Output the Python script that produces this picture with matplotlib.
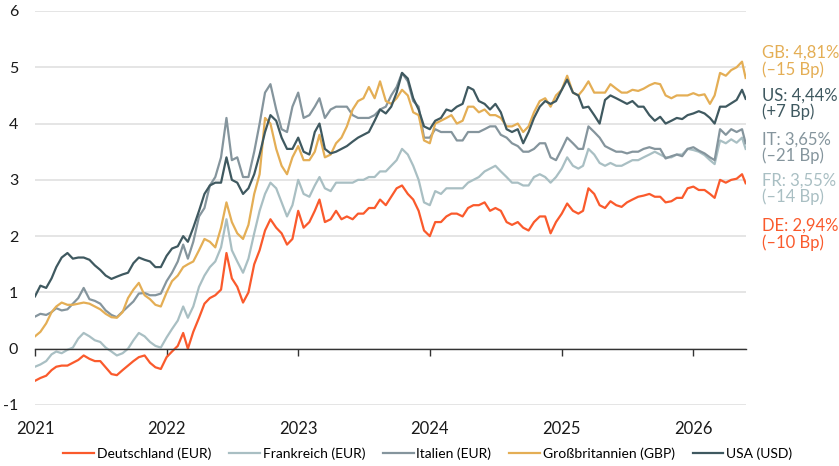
import matplotlib
matplotlib.use("Agg")
import matplotlib.pyplot as plt
import pandas as pd

plt.rcParams['font.family'] = ['Lato', 'DejaVu Sans']
plt.rcParams['axes.unicode_minus'] = False

# ---- data: 10y government bond yields in %, read at the 1st and 16th of each month ----
month_starts = pd.date_range('2021-01-01', periods=65, freq='MS')
last_date = pd.Timestamp('2026-05-26')

# values on the 1st of each month (Jan 2021 .. May 2026)
de_1st = [-0.57, -0.48, -0.32, -0.30, -0.20, -0.18, -0.22, -0.45, -0.38, -0.22, -0.12, -0.33,
          -0.15, 0.05, 0.00, 0.55, 0.90, 1.05, 1.25, 0.82, 1.50, 2.10, 2.15, 1.85,
          2.45, 2.25, 2.65, 2.30, 2.30, 2.30, 2.40, 2.50, 2.55, 2.85, 2.75, 2.45,
          2.00, 2.25, 2.40, 2.35, 2.55, 2.60, 2.50, 2.25, 2.25, 2.10, 2.35, 2.05,
          2.40, 2.45, 2.45, 2.75, 2.50, 2.55, 2.60, 2.70, 2.75, 2.70, 2.62, 2.68,
          2.88, 2.82, 2.68, 2.95, 3.02]
fr_1st = [-0.32, -0.22, -0.05, -0.02, 0.18, 0.22, 0.12, -0.05, -0.08, 0.15, 0.22, 0.05,
          0.20, 0.50, 0.55, 1.10, 1.45, 1.80, 1.75, 1.35, 2.05, 2.75, 2.85, 2.35,
          3.00, 2.70, 3.05, 2.80, 2.95, 2.95, 3.00, 3.05, 3.15, 3.35, 3.45, 3.00,
          2.55, 2.75, 2.85, 2.85, 3.00, 3.15, 3.25, 3.05, 2.95, 2.90, 3.10, 2.95,
          3.20, 3.25, 3.25, 3.45, 3.25, 3.25, 3.30, 3.35, 3.45, 3.45, 3.40, 3.45,
          3.53, 3.44, 3.28, 3.65, 3.66]
it_1st = [0.57, 0.60, 0.72, 0.70, 0.90, 0.88, 0.80, 0.60, 0.66, 0.84, 0.99, 0.95,
          1.20, 1.55, 1.60, 2.35, 2.90, 3.40, 3.35, 3.05, 3.50, 4.55, 4.25, 3.85,
          4.55, 4.15, 4.45, 4.25, 4.30, 4.15, 4.10, 4.15, 4.30, 4.65, 4.75, 4.30,
          3.75, 3.85, 3.85, 3.70, 3.85, 3.90, 3.95, 3.75, 3.60, 3.50, 3.65, 3.40,
          3.55, 3.65, 3.55, 3.85, 3.60, 3.50, 3.47, 3.50, 3.58, 3.55, 3.42, 3.42,
          3.58, 3.47, 3.35, 3.80, 3.85]
gb_1st = [0.22, 0.45, 0.75, 0.78, 0.80, 0.80, 0.70, 0.56, 0.65, 1.05, 0.95, 0.78,
          1.00, 1.30, 1.50, 1.75, 1.90, 2.15, 2.25, 1.95, 2.75, 4.10, 3.55, 3.10,
          3.60, 3.35, 3.80, 3.45, 3.75, 4.25, 4.45, 4.45, 4.40, 4.45, 4.50, 4.15,
          3.65, 4.05, 4.15, 4.05, 4.30, 4.25, 4.15, 3.95, 4.00, 3.95, 4.40, 4.30,
          4.60, 4.55, 4.60, 4.55, 4.55, 4.62, 4.55, 4.58, 4.68, 4.70, 4.45, 4.50,
          4.54, 4.52, 4.50, 4.85, 5.00]
us_1st = [0.93, 1.08, 1.45, 1.70, 1.62, 1.58, 1.40, 1.24, 1.32, 1.52, 1.58, 1.45,
          1.65, 1.82, 1.90, 2.45, 2.90, 2.95, 3.00, 2.75, 3.10, 3.85, 4.05, 3.55,
          3.75, 3.45, 4.00, 3.47, 3.55, 3.68, 3.80, 4.05, 4.18, 4.55, 4.80, 4.25,
          3.90, 4.10, 4.22, 4.35, 4.60, 4.35, 4.35, 3.90, 3.90, 3.85, 4.30, 4.35,
          4.60, 4.55, 4.28, 4.15, 4.42, 4.45, 4.35, 4.30, 4.15, 4.12, 4.05, 4.08,
          4.18, 4.18, 4.00, 4.30, 4.42]

# values on the 16th of each month (Jan 2021 .. May 2026)
de_mid = [-0.52, -0.38, -0.30, -0.25, -0.12, -0.22, -0.33, -0.47, -0.30, -0.15, -0.25, -0.36,
          -0.05, 0.28, 0.30, 0.80, 0.95, 1.70, 1.10, 1.00, 1.75, 2.30, 2.05, 1.95,
          2.15, 2.45, 2.25, 2.45, 2.35, 2.40, 2.50, 2.65, 2.70, 2.90, 2.65, 2.10,
          2.25, 2.35, 2.40, 2.50, 2.55, 2.45, 2.45, 2.20, 2.15, 2.25, 2.35, 2.25,
          2.58, 2.40, 2.85, 2.55, 2.62, 2.52, 2.65, 2.72, 2.70, 2.60, 2.68, 2.85,
          2.82, 2.75, 3.00, 3.00, 3.10]
fr_mid = [-0.28, -0.10, -0.08, 0.02, 0.28, 0.15, 0.02, -0.12, 0.00, 0.28, 0.12, 0.02,
          0.35, 0.75, 0.75, 1.30, 1.55, 2.30, 1.55, 1.60, 2.45, 2.95, 2.60, 2.55,
          2.75, 2.90, 2.85, 2.95, 2.95, 3.00, 3.05, 3.15, 3.25, 3.55, 3.25, 2.60,
          2.80, 2.85, 2.85, 2.95, 3.05, 3.20, 3.15, 2.95, 2.90, 3.05, 3.05, 3.05,
          3.40, 3.20, 3.55, 3.30, 3.30, 3.25, 3.35, 3.40, 3.50, 3.40, 3.45, 3.55,
          3.50, 3.35, 3.70, 3.72, 3.75]
it_mid = [0.62, 0.65, 0.68, 0.80, 1.08, 0.85, 0.68, 0.56, 0.75, 0.98, 0.95, 0.98,
          1.35, 1.85, 1.90, 2.50, 3.05, 4.10, 3.40, 3.05, 4.00, 4.70, 3.90, 4.30,
          4.10, 4.30, 4.10, 4.30, 4.30, 4.10, 4.10, 4.25, 4.50, 4.90, 4.40, 3.75,
          3.90, 3.85, 3.70, 3.85, 3.85, 3.95, 3.80, 3.65, 3.50, 3.55, 3.65, 3.35,
          3.75, 3.55, 3.95, 3.75, 3.55, 3.50, 3.50, 3.55, 3.55, 3.38, 3.45, 3.55,
          3.52, 3.40, 3.90, 3.90, 3.90]
gb_mid = [0.30, 0.65, 0.82, 0.78, 0.82, 0.75, 0.62, 0.55, 0.90, 1.17, 0.88, 0.75,
          1.20, 1.45, 1.55, 1.95, 1.80, 2.60, 2.05, 2.20, 3.10, 4.00, 3.25, 3.40,
          3.35, 3.50, 3.40, 3.65, 3.95, 4.40, 4.65, 4.75, 4.35, 4.60, 4.20, 3.70,
          4.00, 4.10, 4.00, 4.30, 4.20, 4.15, 4.10, 3.95, 3.85, 4.20, 4.45, 4.50,
          4.85, 4.50, 4.75, 4.55, 4.70, 4.55, 4.60, 4.62, 4.72, 4.50, 4.50, 4.50,
          4.50, 4.35, 4.90, 4.95, 5.10]
us_mid = [1.12, 1.25, 1.62, 1.60, 1.62, 1.48, 1.30, 1.28, 1.35, 1.62, 1.55, 1.45,
          1.78, 2.00, 2.15, 2.75, 2.95, 3.40, 2.95, 2.85, 3.45, 4.15, 3.75, 3.55,
          3.50, 3.85, 3.55, 3.50, 3.60, 3.75, 3.85, 4.25, 4.30, 4.90, 4.45, 3.95,
          4.05, 4.25, 4.30, 4.65, 4.40, 4.25, 4.20, 3.85, 3.65, 4.10, 4.40, 4.40,
          4.78, 4.50, 4.30, 4.00, 4.50, 4.40, 4.40, 4.30, 4.05, 4.00, 4.10, 4.15,
          4.22, 4.10, 4.30, 4.36, 4.60]

# last observation
de_last, fr_last, it_last, gb_last, us_last = 2.94, 3.55, 3.65, 4.81, 4.44

names = ['Deutschland (EUR)', 'Frankreich (EUR)', 'Italien (EUR)', 'Großbritannien (GBP)', 'USA (USD)']
codes = ['DE', 'FR', 'IT', 'GB', 'US']
changes_bp = ['–10', '–14', '–21', '–15', '+7']
colors = ['#fa5a2c', '#a9bfc3', '#85959d', '#e4ae55', '#3f5960']
year_ticks = [2021, 2022, 2023, 2024, 2025, 2026]

# layout: vertical positions of the right-hand labels (data units)
label_y = [2.04, 2.84, 3.57, 5.11, 4.35]


def build(first, mid, last):
    vals = []
    for a, b in zip(first, mid):
        vals += [a, b]
    return vals + [last]


dates = []
for d in month_starts:
    dates += [d, d + pd.Timedelta(days=15)]
dates.append(last_date)

series = [build(de_1st, de_mid, de_last), build(fr_1st, fr_mid, fr_last),
          build(it_1st, it_mid, it_last), build(gb_1st, gb_mid, gb_last),
          build(us_1st, us_mid, us_last)]

fig = plt.figure(figsize=(8.39, 4.66), dpi=100)
ax = fig.add_axes([35 / 839, 1 - 405 / 466, 711 / 839, 394 / 466])

handles = []
for vals, c, nm in zip(series, colors, names):
    h, = ax.plot(dates, vals, color=c, lw=1.6, label=nm, solid_joinstyle='round')
    handles.append(h)

ax.set_ylim(-1, 6)
ax.set_xlim(pd.Timestamp('2021-01-01'), pd.Timestamp('2026-05-27'))
ax.set_yticks(range(-1, 7))
ax.yaxis.grid(True, color='#e3e3e3', lw=1.3)
ax.set_axisbelow(True)

for s in ['top', 'right', 'left']:
    ax.spines[s].set_visible(False)
ax.spines['bottom'].set_position(('data', 0))
ax.spines['bottom'].set_color('#333333')
ax.spines['bottom'].set_linewidth(1.0)

xt = [pd.Timestamp(f'{y}-01-01') for y in year_ticks]
ax.set_xticks(xt)
ax.set_xticklabels([str(y) for y in year_ticks])
ax.tick_params(axis='x', direction='out', length=5, width=1, color='#333333',
               pad=47, labelsize=12, labelcolor='#1a1a1a')
ax.tick_params(axis='y', length=0, pad=12, labelsize=11.5, labelcolor='#1a1a1a')

trans = ax.get_yaxis_transform()
for vals, c, code, bp, ly in zip(series, colors, codes, changes_bp, label_y):
    txt = f"{code}: {vals[-1]:.2f}%".replace('.', ',') + f"\n({bp} Bp)"
    ax.text(1.0225, ly, txt, transform=trans, color=c, fontsize=12,
            va='center', ha='left', linespacing=1.05, clip_on=False)

fig.legend(handles=handles, loc='center', bbox_to_anchor=(0.51, 12 / 466), ncol=5,
           frameon=False, fontsize=10, handlelength=2.2, handletextpad=0.2,
           columnspacing=1.3)

fig.savefig('out.png', dpi=100)
